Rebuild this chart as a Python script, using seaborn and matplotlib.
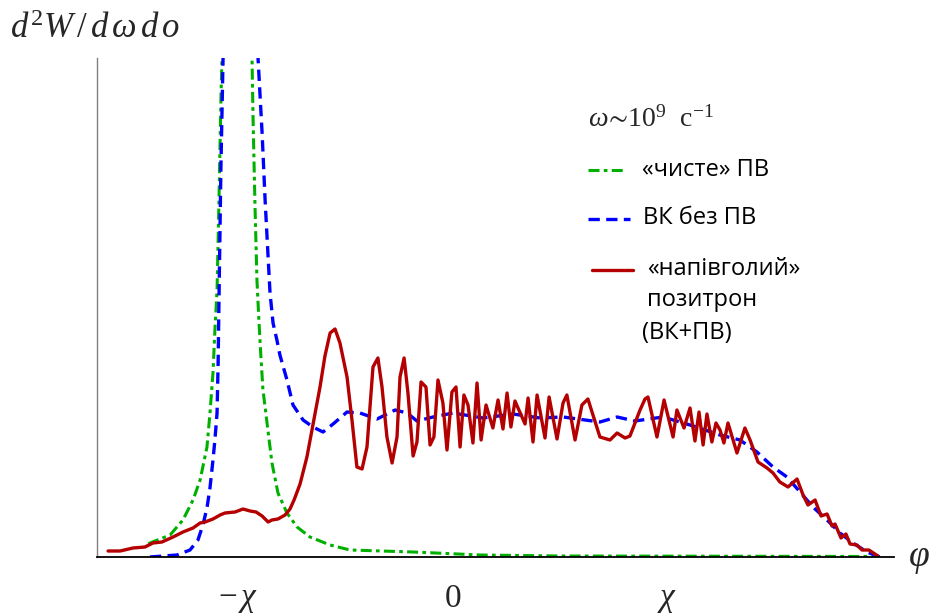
import matplotlib
matplotlib.use("Agg")
import matplotlib.pyplot as plt
from matplotlib.lines import Line2D
import pandas as pd
import seaborn as sns

# angle phi in units of chi, intensity in arbitrary units
phi_pure_tr = [-1.42, -1.413, -1.319, -1.259, -1.212, -1.179, -1.147, -1.133, -1.119,
               -1.110, -1.100, -1.091, -1.082, -1.077, -1.06, -1.0, -0.95, -0.937,
               -0.932, -0.923, -0.914, -0.905, -0.896, -0.886, -0.876, -0.867, -0.844,
               -0.816, -0.774, -0.727, -0.667, -0.573, -0.480, -0.186, 0.126, 0.499,
               1.152, 1.991]
pure_tr = [0.13, 0.14, 0.22, 0.37, 0.57, 0.77, 1.10, 1.44, 1.84,
           2.27, 2.67, 3.57, 4.57, 4.99, 6.5, 12.0, 6.5, 4.99,
           4.37, 3.50, 2.77, 2.37, 2.02, 1.67, 1.50, 1.34, 0.94,
           0.64, 0.44, 0.30, 0.20, 0.12, 0.07, 0.05, 0.02, 0.01,
           0.008, 0.005]

phi_vc = [-1.413, -1.287, -1.226, -1.189, -1.166, -1.147, -1.133, -1.119, -1.110,
          -1.100, -1.095, -1.091, -1.082, -1.072, -1.05, -1.0, -0.93, -0.909,
          -0.890, -0.876, -0.862, -0.853, -0.839, -0.821, -0.807, -0.774, -0.746,
          -0.699, -0.653, -0.606, -0.559, -0.494, -0.434, -0.354, -0.270, -0.214,
          -0.168, -0.093, 0.0, 0.140, 0.280, 0.406, 0.513, 0.685, 0.765,
          0.848, 0.979, 1.105, 1.245, 1.338, 1.417, 1.492, 1.557, 1.618,
          1.678, 1.744, 1.804, 1.865, 1.930, 1.991]
vc = [0.00, 0.02, 0.07, 0.17, 0.32, 0.49, 0.69, 0.97, 1.17,
      1.44, 1.94, 2.57, 3.90, 4.99, 7.0, 12.0, 7.0, 4.99,
      4.24, 3.57, 3.00, 2.64, 2.34, 2.17, 2.02, 1.77, 1.52,
      1.37, 1.30, 1.25, 1.33, 1.45, 1.44, 1.38, 1.47, 1.44,
      1.36, 1.40, 1.44, 1.39, 1.43, 1.39, 1.40, 1.35, 1.40,
      1.36, 1.40, 1.32, 1.22, 1.17, 1.05, 0.90, 0.80, 0.65,
      0.50, 0.37, 0.24, 0.14, 0.05, 0.00]

phi_positron = [-1.608, -1.552, -1.492, -1.436, -1.399, -1.357, -1.305, -1.259, -1.212,
                -1.179, -1.156, -1.119, -1.086, -1.063, -1.016, -0.979, -0.946, -0.918,
                -0.890, -0.862, -0.844, -0.816, -0.783, -0.760, -0.741, -0.713, -0.681,
                -0.653, -0.620, -0.597, -0.573, -0.550, -0.527, -0.494, -0.471, -0.448,
                -0.424, -0.401, -0.373, -0.350, -0.331, -0.308, -0.284, -0.261, -0.247,
                -0.228, -0.210, -0.186, -0.168, -0.149, -0.126, -0.107, -0.089, -0.070,
                -0.047, -0.028, -0.005, 0.014, 0.033, 0.051, 0.070, 0.093, 0.112,
                0.131, 0.154, 0.186, 0.210, 0.233, 0.252, 0.270, 0.289, 0.336,
                0.350, 0.373, 0.392, 0.429, 0.448, 0.485, 0.513, 0.531, 0.569,
                0.601, 0.629, 0.685, 0.732, 0.765, 0.802, 0.825, 0.872, 0.895,
                0.909, 0.951, 0.984, 1.026, 1.044, 1.077, 1.105, 1.128, 1.147,
                1.166, 1.184, 1.207, 1.226, 1.245, 1.263, 1.282, 1.324, 1.361,
                1.385, 1.422, 1.464, 1.492, 1.524, 1.562, 1.604, 1.632, 1.655,
                1.688, 1.716, 1.744, 1.767, 1.781, 1.809, 1.832, 1.851, 1.883,
                1.907, 1.939, 1.981]
positron = [0.06, 0.06, 0.09, 0.10, 0.14, 0.15, 0.20, 0.25, 0.29,
            0.34, 0.35, 0.38, 0.42, 0.44, 0.45, 0.48, 0.46, 0.45,
            0.41, 0.35, 0.37, 0.38, 0.42, 0.48, 0.57, 0.73, 1.00,
            1.32, 1.70, 2.01, 2.24, 2.28, 2.14, 1.80, 1.37, 0.90,
            0.88, 1.10, 1.90, 1.99, 1.70, 1.20, 0.94, 1.20, 1.80,
            1.99, 1.64, 1.01, 1.15, 1.75, 1.70, 1.12, 1.20, 1.77,
            1.54, 1.07, 1.65, 1.70, 1.10, 1.62, 1.52, 1.14, 1.74,
            1.17, 1.52, 1.29, 1.57, 1.28, 1.64, 1.30, 1.56, 1.33,
            1.59, 1.15, 1.62, 1.19, 1.60, 1.18, 1.54, 1.62, 1.17,
            1.52, 1.58, 1.20, 1.17, 1.24, 1.19, 1.21, 1.47, 1.58,
            1.60, 1.20, 1.57, 1.20, 1.47, 1.29, 1.49, 1.16, 1.45,
            1.12, 1.43, 1.15, 1.34, 1.27, 1.14, 1.34, 1.04, 1.29,
            1.17, 0.95, 0.89, 0.84, 0.75, 0.70, 0.78, 0.62, 0.52,
            0.57, 0.41, 0.43, 0.31, 0.33, 0.19, 0.23, 0.13, 0.12,
            0.07, 0.07, 0.01]

tick_pos = [-1, 0, 1]
tick_labels = [r"$-\,\chi$", r"$0$", r"$\chi$"]

label_pure = "«чисте» ПВ"
label_vc = "ВК без ПВ"
label_pos_lines = ["«напівголий»", "позитрон", "(ВК+ПВ)"]
freq_note = r"$\omega\!\sim\!10^9\ \ \mathrm{с}^{-1}$"

GREEN = "#00b000"
BLUE = "#0000ff"
RED = "#b40000"

sns.set_theme(style="white")
plt.rcParams["mathtext.fontset"] = "custom"
plt.rcParams["mathtext.rm"] = "Liberation Serif"
plt.rcParams["mathtext.it"] = "Liberation Serif:italic"
plt.rcParams["mathtext.fallback"] = "stix"
plt.rcParams["font.family"] = ["Open Sans", "DejaVu Sans"]

W, H = 933, 614
fig = plt.figure(figsize=(W / 100, H / 100), dpi=100)
ax = fig.add_axes([97 / W, 57 / H, (894 - 97) / W, (557 - 58) / H])

df_tr = pd.DataFrame({"phi": phi_pure_tr, "I": pure_tr})
df_vc = pd.DataFrame({"phi": phi_vc, "I": vc})
df_pos = pd.DataFrame({"phi": phi_positron, "I": positron})

sns.lineplot(data=df_tr, x="phi", y="I", ax=ax, color=GREEN, lw=2.2,
             linestyle=(0, (3.6, 1.4, 1.2, 1.4)), sort=False, estimator=None)
sns.lineplot(data=df_vc, x="phi", y="I", ax=ax, color=BLUE, lw=2.4,
             linestyle=(0, (3.4, 1.9)), sort=False, estimator=None)
sns.lineplot(data=df_pos, x="phi", y="I", ax=ax, color=RED, lw=2.4,
             sort=False, estimator=None)

ax.set_xlim(-1.6597, 2.056)
ax.set_ylim(0, 4.99)
ax.set_xlabel("")
ax.set_ylabel("")
ax.set_yticks([])
ax.set_xticks(tick_pos)
ax.set_xticklabels(tick_labels, fontsize=24)
ax.tick_params(axis="x", direction="in", length=7, width=1.3, color="black", pad=18)
for side in ("top", "right"):
    ax.spines[side].set_visible(False)
ax.spines["bottom"].set_color("black")
ax.spines["bottom"].set_linewidth(1.3)
ax.spines["left"].set_color("#808080")
ax.spines["left"].set_linewidth(1.0)

# axis captions
fig.text(10 / W, 1 - 38 / H, r"$d^2W\,/\,d\,\omega\, d\,o$", fontsize=25,
         ha="left", va="baseline")
fig.text(908 / W, 1 - 557 / H, r"$\varphi$", fontsize=27, ha="left", va="center")

# legend block
fig.text(588 / W, 1 - 127 / H, freq_note, fontsize=20, ha="left", va="baseline")
legend_rows = [
    (GREEN, (0, (3.6, 1.4, 1.2, 1.4)), 2.2, 588, 623, 170),
    (BLUE, (0, (3.4, 1.9)), 2.4, 588, 630, 219),
    (RED, "-", 2.4, 592, 633, 270),
]
for color, ls, lw, x0, x1, y in legend_rows:
    fig.add_artist(Line2D([x0 / W, x1 / W], [1 - y / H, 1 - y / H],
                          color=color, lw=lw, linestyle=ls,
                          transform=fig.transFigure))

text_kw = dict(fontsize=17, ha="left", va="center", color="black")
fig.text(642 / W, 1 - 170 / H, label_pure, **text_kw)
fig.text(643 / W, 1 - 218 / H, label_vc, **text_kw)
fig.text(647 / W, 1 - 269 / H, label_pos_lines[0], **text_kw)
fig.text(647 / W, 1 - 300 / H, label_pos_lines[1], **text_kw)
fig.text(642 / W, 1 - 333 / H, label_pos_lines[2], **text_kw)

fig.savefig("out.png", dpi=100)
